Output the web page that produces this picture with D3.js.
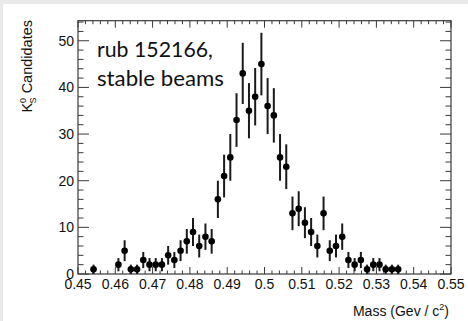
<!DOCTYPE html>
<html>
<head>
<meta charset="utf-8">
<script src="https://cdn.jsdelivr.net/npm/d3@7"></script>
<style>
  html, body { margin: 0; padding: 0; background: #e9e9e9; }
  svg { display: block; }
</style>
</head>
<body>
<div id="chart"></div>
<script>

// Data
// ====

const X_MIN = 0.45, X_MAX = 0.55, N_BINS = 60;

// counts per bin, bin 0 starts at 0.45
const counts = [
  0, 0, 1, 0, 0, 0, 2, 5, 1, 1,
  3, 2, 2, 2, 4, 3, 5, 7, 9, 6,
  8, 7, 16, 21, 25, 33, 43, 35, 38, 45,
  36, 34, 25, 23, 13, 14, 11, 9, 6, 13,
  5, 6, 8, 3, 2, 3, 1, 2, 2, 1,
  1, 1, 0, 0, 0, 0, 0, 0, 0, 0
];

const xTicks = [0.45, 0.46, 0.47, 0.48, 0.49, 0.5, 0.51, 0.52, 0.53, 0.54, 0.55];
const xTickLabels = ["0.45", "0.46", "0.47", "0.48", "0.49", "0.5", "0.51", "0.52", "0.53", "0.54", "0.55"];
const yTicks = [0, 10, 20, 30, 40, 50];
const yTickLabels = ["0", "10", "20", "30", "40", "50"];

const runText = ["rub 152166,", "stable beams"];


// Layout
// ======

const W = 468, H = 321;
const FRAME = { left: 78, right: 451, top: 20.7, bottom: 274 };
const FONT = "'Liberation Sans', Arial, Helvetica, sans-serif";
const AXIS_COLOR = "#3a3a3a";

const binWidth = (X_MAX - X_MIN) / N_BINS;
const points = counts
  .map((n, i) => ({ x: X_MIN + (i + 0.5) * binWidth, n: n, err: Math.sqrt(n) }))
  .filter((d) => d.n > 0);

const x = d3.scaleLinear().domain([X_MIN, X_MAX]).range([FRAME.left, FRAME.right]);
const y = d3.scaleLinear().domain([0, 54.3]).range([FRAME.bottom, FRAME.top]);

const svg = d3.select('#chart').append('svg')
  .attr('width', W)
  .attr('height', H);

// white pad
svg.append('rect')
  .attr('x', 3).attr('y', 4)
  .attr('width', W - 3).attr('height', H - 4)
  .attr('fill', '#fff');


// Axes
// ====

const xMinor = d3.range(X_MIN, X_MAX + 1e-9, 0.002);
const yMinor = d3.range(0, 54.3, 2);

const ticks = svg.append('g')
  .attr('stroke', AXIS_COLOR)
  .attr('stroke-width', 1);

// bottom and top
xMinor.forEach((v) => {
  const major = xTicks.some((t) => Math.abs(t - v) < 1e-9);
  const len = major ? 7 : 3.5;
  ticks.append('line')
    .attr('x1', x(v)).attr('x2', x(v))
    .attr('y1', FRAME.bottom).attr('y2', FRAME.bottom - len);
  ticks.append('line')
    .attr('x1', x(v)).attr('x2', x(v))
    .attr('y1', FRAME.top).attr('y2', FRAME.top + len);
});

// left and right
yMinor.forEach((v) => {
  const major = v % 10 === 0;
  const len = major ? 11 : 5.5;
  ticks.append('line')
    .attr('x1', FRAME.left).attr('x2', FRAME.left + len)
    .attr('y1', y(v)).attr('y2', y(v));
  ticks.append('line')
    .attr('x1', FRAME.right).attr('x2', FRAME.right - len)
    .attr('y1', y(v)).attr('y2', y(v));
});

svg.append('rect')
  .attr('x', FRAME.left).attr('y', FRAME.top)
  .attr('width', FRAME.right - FRAME.left)
  .attr('height', FRAME.bottom - FRAME.top)
  .attr('fill', 'none')
  .attr('stroke', AXIS_COLOR)
  .attr('stroke-width', 1.2);

svg.append('g')
  .selectAll('text').data(xTicks)
  .enter()
  .append('text')
    .attr('x', (d) => x(d))
    .attr('y', 288.5)
    .attr('text-anchor', 'middle')
    .attr('font-family', FONT)
    .attr('font-size', 14)
    .attr('fill', '#111')
    .text((d, i) => xTickLabels[i]);

svg.append('g')
  .selectAll('text').data(yTicks)
  .enter()
  .append('text')
    .attr('x', 74)
    .attr('y', (d) => y(d))
    .attr('dy', '0.36em')
    .attr('text-anchor', 'end')
    .attr('font-family', FONT)
    .attr('font-size', 14)
    .attr('fill', '#111')
    .text((d, i) => yTickLabels[i]);

// axis titles
svg.append('text')
  .attr('x', 449)
  .attr('y', 316)
  .attr('text-anchor', 'end')
  .attr('font-family', FONT)
  .attr('font-size', 14)
  .attr('fill', '#111')
  .call((t) => {
    t.append('tspan').text('Mass (Gev / c');
    t.append('tspan').attr('font-size', 9).attr('dy', -6).text('2');
    t.append('tspan').attr('dy', 6).text(')');
  });

svg.append('text')
  .attr('transform', 'translate(31.5,20) rotate(-90)')
  .attr('text-anchor', 'end')
  .attr('font-family', FONT)
  .attr('font-size', 14.5)
  .attr('fill', '#111')
  .call((t) => {
    t.append('tspan').text('K');
    t.append('tspan').attr('font-size', 9).attr('dy', -6).text('0');
    t.append('tspan').attr('font-size', 9).attr('dx', -5.5).attr('dy', 10).text('S');
    t.append('tspan').attr('dy', -4).text(' Candidates');
  });


// Data points
// ===========

const marks = svg.append('g');

marks.selectAll('line').data(points)
  .enter()
  .append('line')
    .attr('x1', (d) => x(d.x)).attr('x2', (d) => x(d.x))
    .attr('y1', (d) => y(d.n - d.err))
    .attr('y2', (d) => y(d.n + d.err))
    .attr('stroke', '#1a1a1a')
    .attr('stroke-width', 2);

marks.selectAll('circle').data(points)
  .enter()
  .append('circle')
    .attr('cx', (d) => x(d.x))
    .attr('cy', (d) => y(d.n))
    .attr('r', 3.3)
    .attr('fill', '#000');


// Run label
// =========

// the original is set in a narrow humanist face, so fit each line to its width
const runWidths = [116, 127];

svg.append('g')
  .selectAll('text').data(runText)
  .enter()
  .append('text')
    .attr('x', 0)
    .attr('y', 0)
    .attr('font-family', "Lato, 'Open Sans', sans-serif")
    .attr('font-size', 20.5)
    .attr('fill', '#111')
    .text((d) => d)
    .each(function (d, i) {
      const w = this.getComputedTextLength();
      d3.select(this).attr('transform',
        `translate(97,${56.5 + i * 29.5}) scale(${runWidths[i] / w},1)`);
    });

</script>
</body>
</html>
